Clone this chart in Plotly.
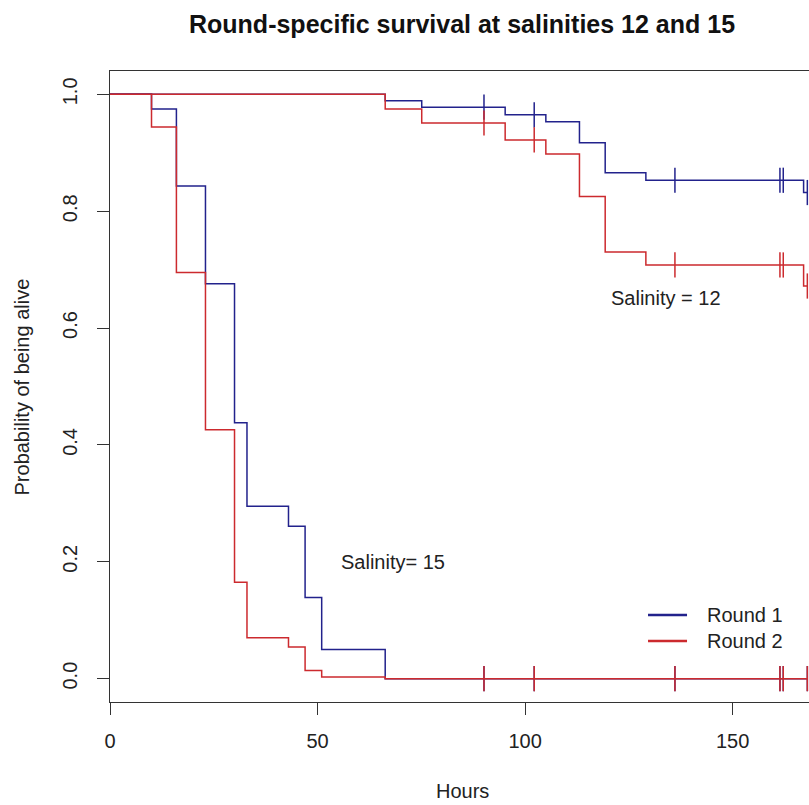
import plotly.graph_objects as go


FONT = "Liberation Sans, Arial, sans-serif"
BLUE = "#22228c"
RED = "#cc2a2e"
AXIS_COLOR = "#333333"
TEXT_COLOR = "#222222"

# Kaplan-Meier estimates
hours_s15 = [0, 10, 16, 23, 30, 33, 43, 47, 51, 66.3]
surv_s15_r1 = [1.0, 0.975, 0.843, 0.676, 0.438, 0.295, 0.261, 0.139, 0.050, 0.0]
surv_s15_r2 = [1.0, 0.944, 0.695, 0.426, 0.165, 0.070, 0.054, 0.014, 0.003, 0.0]

hours_s12 = [0, 66.3, 75.1, 95.2, 105, 113.1, 119.3, 129.1, 167.1]
surv_s12_r1 = [1.0, 0.989, 0.978, 0.965, 0.953, 0.917, 0.866, 0.853, 0.832]
surv_s12_r2 = [1.0, 0.975, 0.951, 0.922, 0.898, 0.825, 0.730, 0.708, 0.672]

# censored observation times (same for every curve)
censor_hours = [90.1, 102.2, 136.1, 161.4, 162.2, 168.0]

round_names = ["Round 1", "Round 2"]
x_ticks = [0, 50, 100, 150]
y_ticks = [0.0, 0.2, 0.4, 0.6, 0.8, 1.0]


def step_value(times, surv, t):
    """Survival value of a step curve at time t"""
    value = surv[0]
    for ti, si in zip(times, surv):
        if ti <= t:
            value = si
    return value


def add_curve(fig, times, surv, color):
    end = censor_hours[-1]
    fig.add_trace(
        go.Scatter(
            x=times + [end],
            y=surv + [surv[-1]],
            mode="lines",
            line=dict(color=color, width=1.5, shape="hv"),
            showlegend=False,
            hoverinfo="skip",
        )
    )
    # censoring marks
    fig.add_trace(
        go.Scatter(
            x=censor_hours,
            y=[step_value(times, surv, t) for t in censor_hours],
            mode="markers",
            marker=dict(symbol="line-ns", size=18,
                        line=dict(color=color, width=1.5)),
            showlegend=False,
            hoverinfo="skip",
        )
    )


fig = go.Figure()

add_curve(fig, hours_s15, surv_s15_r1, BLUE)
add_curve(fig, hours_s15, surv_s15_r2, RED)
add_curve(fig, hours_s12, surv_s12_r1, BLUE)
add_curve(fig, hours_s12, surv_s12_r2, RED)

# text labels inside the plot
fig.add_annotation(x=120.2, y=0.652, text="Salinity = 12", showarrow=False,
                   xanchor="left", yanchor="middle",
                   font=dict(family=FONT, size=20, color=TEXT_COLOR))
fig.add_annotation(x=55.2, y=0.199, text="Salinity= 15", showarrow=False,
                   xanchor="left", yanchor="middle",
                   font=dict(family=FONT, size=20, color=TEXT_COLOR))

# hand-made legend (no box, as in R with bty="n")
for name, color, ypos in zip(round_names, [BLUE, RED], [0.1379, 0.0967]):
    fig.add_shape(type="line", xref="paper", yref="paper",
                  x0=0.7697, x1=0.8255, y0=ypos, y1=ypos,
                  line=dict(color=color, width=2.5))
    fig.add_annotation(xref="paper", yref="paper", x=0.8512, y=ypos,
                       text=name, showarrow=False,
                       xanchor="left", yanchor="middle",
                       font=dict(family=FONT, size=20, color=TEXT_COLOR))

# titles
fig.add_annotation(xref="paper", yref="paper", x=0.5036, y=1.0745,
                   text="<b>Round-specific survival at salinities 12 and 15</b>",
                   showarrow=False, xanchor="center", yanchor="middle",
                   font=dict(family=FONT, size=25, color="#111111"))
fig.add_annotation(xref="paper", yref="paper", x=0.5036, y=-0.141,
                   text="Hours", showarrow=False,
                   xanchor="center", yanchor="middle",
                   font=dict(family=FONT, size=20, color=TEXT_COLOR))
fig.add_annotation(xref="paper", yref="paper", x=-0.1259, y=0.5,
                   text="Probability of being alive", showarrow=False,
                   textangle=-90, xanchor="center", yanchor="middle",
                   font=dict(family=FONT, size=20, color=TEXT_COLOR))

fig.update_xaxes(
    range=[0, 168.4],
    tickvals=x_ticks,
    ticks="outside", ticklen=12, tickwidth=1, tickcolor=AXIS_COLOR,
    ticklabelstandoff=9,
    showline=True, linecolor=AXIS_COLOR, linewidth=1, mirror=True,
    showgrid=False, zeroline=False,
    tickfont=dict(family=FONT, size=20, color=TEXT_COLOR),
)
fig.update_yaxes(
    range=[-0.04, 1.04],
    tickvals=y_ticks,
    tickformat=".1f",
    tickangle=-90,
    ticks="outside", ticklen=12, tickwidth=1, tickcolor=AXIS_COLOR,
    ticklabelstandoff=12,
    showline=True, linecolor=AXIS_COLOR, linewidth=1, mirror=False,
    showgrid=False, zeroline=False,
    tickfont=dict(family=FONT, size=20, color=TEXT_COLOR),
)

fig.update_layout(
    width=809, height=805,
    margin=dict(l=110, r=0, t=71, b=103),
    plot_bgcolor="white",
    paper_bgcolor="white",
    showlegend=False,
)

# drop the default page margin so the figure fills the window exactly
fig.write_html(
    "out.html",
    config={"displayModeBar": False},
    post_script="document.body.style.margin='0';"
                "document.body.style.overflow='hidden';",
)
